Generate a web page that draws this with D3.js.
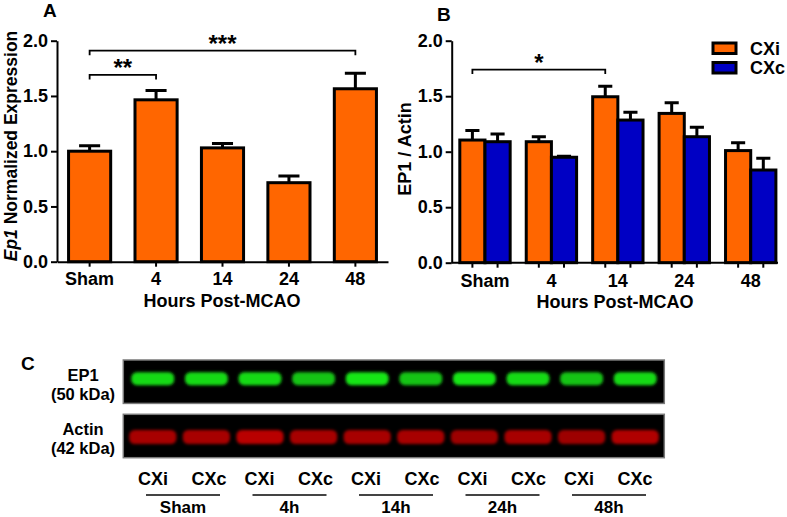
<!DOCTYPE html>
<html><head><meta charset="utf-8">
<script src="https://cdn.jsdelivr.net/npm/d3@7"></script>
<style>
body{margin:0;background:#fff}
svg{display:block;font-family:"Liberation Sans",Arial,sans-serif;font-weight:bold}
</style>
</head><body><svg id="c" width="787" height="517"></svg>
<script>
// ---------- data ----------
const hours = ["Sham", "4", "14", "24", "48"];
const ep1Mean = [1.00, 1.465, 1.03, 0.715, 1.565];
const ep1Sem  = [0.05, 0.085, 0.04, 0.06, 0.14];
const sides = ["CXi", "CXc"];
const cxiMean = [1.105, 1.09, 1.495, 1.345, 1.01];
const cxiSem  = [0.085, 0.045, 0.095, 0.095, 0.07];
const cxcMean = [1.09, 0.95, 1.285, 1.135, 0.835];
const cxcSem  = [0.07, 0.01, 0.07, 0.085, 0.105];
const yTicks = [0, 0.5, 1.0, 1.5, 2.0];
const sigA = [{a: "Sham", b: "48", label: "***", h: 1.91}, {a: "Sham", b: "4", label: "**", h: 1.69}];
const sigB = [{a: "Sham", b: "14", label: "*", h: 1.74}];
const blotGroups = ["Sham", "4h", "14h", "24h", "48h"];
const blotLanes = ["Sham-CXi","Sham-CXc","4h-CXi","4h-CXc","14h-CXi","14h-CXc","24h-CXi","24h-CXc","48h-CXi","48h-CXc"];
const ep1Signal   = [0.95, 0.95, 0.95, 0.85, 1.0, 0.85, 1.0, 0.95, 0.85, 0.95];
const actinSignal = [0.9, 0.9, 1.0, 0.9, 0.9, 0.9, 0.85, 0.9, 0.85, 0.95];

// ---------- styles ----------
const ORANGE = "#ff6600", BLUE = "#0000c4";
const svg = d3.select("#c");
const FS = 18;

const defs = svg.append("defs");
defs.append("filter").attr("id", "blur").attr("x", "-20%").attr("y", "-50%").attr("width", "140%").attr("height", "200%")
  .append("feGaussianBlur").attr("stdDeviation", 1.5);

function styleAxis(g) {
  g.selectAll("path,line").attr("stroke", "#000").attr("stroke-width", 2);
  g.selectAll("text").attr("font-size", FS).attr("font-weight", "bold").attr("font-family", "Liberation Sans, Arial, sans-serif").attr("fill", "#000");
}

function drawBracket(g, x1, x2, y, label) {
  g.append("path")
    .attr("d", `M${x1},${y + 4.5}V${y}H${x2}V${y + 4.5}`)
    .attr("fill", "none").attr("stroke", "#000").attr("stroke-width", 1.8);
  g.append("text").attr("x", (x1 + x2) / 2).attr("y", y + 1.5)
    .attr("text-anchor", "middle").attr("font-size", 24).text(label);
}

// ---------- Panel A ----------
{
  const y = d3.scaleLinear().domain([0, 2]).range([261.7, 40.7]);
  const x = d3.scaleBand().domain(hours).range([57, 388]).paddingInner(0.366).paddingOuter(0.174);
  const g = svg.append("g");

  const eb = g.append("g");
  hours.forEach((h, i) => {
    const cx = x(h) + x.bandwidth() / 2, cw = x.bandwidth() * 0.25;
    eb.append("path")
      .attr("d", `M${cx},${y(ep1Mean[i])}V${y(ep1Mean[i] + ep1Sem[i])}M${cx - cw},${y(ep1Mean[i] + ep1Sem[i])}H${cx + cw}`)
      .attr("stroke", "#000").attr("stroke-width", 3).attr("fill", "none");
  });
  g.selectAll("rect.bar").data(hours).join("rect").attr("class", "bar")
    .attr("x", d => x(d)).attr("width", x.bandwidth())
    .attr("y", (d, i) => y(ep1Mean[i])).attr("height", (d, i) => y(0) - y(ep1Mean[i]))
    .attr("fill", ORANGE).attr("stroke", "#000").attr("stroke-width", 3);

  const ya = g.append("g").attr("transform", "translate(57,0)")
    .call(d3.axisLeft(y).tickValues(yTicks).tickFormat(d3.format(".1f")).tickSize(6).tickSizeOuter(0).tickPadding(3));
  styleAxis(ya);
  const xa = g.append("g").attr("transform", `translate(0,${y(0)})`)
    .call(d3.axisBottom(x).tickSize(5).tickSizeOuter(0).tickPadding(5.5));
  styleAxis(xa);

  sigA.forEach(s => drawBracket(g, x(s.a) + x.bandwidth() / 2, x(s.b) + x.bandwidth() / 2, y(s.h), s.label));

  g.append("text").attr("x", 222).attr("y", 306.5).attr("text-anchor", "middle").attr("font-size", FS).text("Hours Post-MCAO");
  const yl = g.append("text").attr("transform", "translate(16.5,146) rotate(-90)").attr("text-anchor", "middle").attr("font-size", 17.5);
  yl.append("tspan").attr("font-style", "italic").text("Ep1");
  yl.append("tspan").text(" Normalized Expression");
  g.append("text").attr("x", 43).attr("y", 17.3).attr("font-size", 19).text("A");
}

// ---------- Panel B ----------
{
  const y = d3.scaleLinear().domain([0, 2]).range([262.7, 40.7]);
  const x = d3.scaleBand().domain(hours).range([451.7, 784]).paddingInner(0.242).paddingOuter(0.122);
  const xs = d3.scaleBand().domain(sides).range([0, x.bandwidth()]);
  const means = {CXi: cxiMean, CXc: cxcMean}, sems = {CXi: cxiSem, CXc: cxcSem};
  const colors = {CXi: ORANGE, CXc: BLUE};
  const g = svg.append("g");

  sides.forEach(sd => {
    hours.forEach((h, i) => {
      const cx = x(h) + xs(sd) + xs.bandwidth() / 2, cw = xs.bandwidth() * 0.28;
      const m = means[sd][i], e = sems[sd][i];
      g.append("path")
        .attr("d", `M${cx},${y(m)}V${y(m + e)}M${cx - cw},${y(m + e)}H${cx + cw}`)
        .attr("stroke", "#000").attr("stroke-width", 3).attr("fill", "none");
    });
  });
  sides.forEach(sd => {
    g.selectAll("rect.b" + sd).data(hours).join("rect").attr("class", "b" + sd)
      .attr("x", d => x(d) + xs(sd)).attr("width", xs.bandwidth())
      .attr("y", (d, i) => y(means[sd][i])).attr("height", (d, i) => y(0) - y(means[sd][i]))
      .attr("fill", colors[sd]).attr("stroke", "#000").attr("stroke-width", 3);
  });

  const ya = g.append("g").attr("transform", "translate(451.7,0)")
    .call(d3.axisLeft(y).tickValues(yTicks).tickFormat(d3.format(".1f")).tickSize(6).tickSizeOuter(0).tickPadding(3));
  styleAxis(ya);
  const xa = g.append("g").attr("transform", `translate(0,${y(0)})`)
    .call(d3.axisBottom(x).tickSize(0).tickPadding(11.5));
  xa.select(".domain").remove();
  styleAxis(xa);
  xa.selectAll(".tick line").remove();
  g.append("line").attr("x1", 451.7).attr("x2", 778).attr("y1", y(0)).attr("y2", y(0)).attr("stroke", "#000").attr("stroke-width", 2);
  sides.forEach(sd => hours.forEach(h => {
    const cx = x(h) + xs(sd) + xs.bandwidth() / 2;
    g.append("line").attr("x1", cx).attr("x2", cx).attr("y1", y(0)).attr("y2", y(0) + 5).attr("stroke", "#000").attr("stroke-width", 2);
  }));

  sigB.forEach(s => drawBracket(g, x(s.a) + xs("CXi") + xs.bandwidth() / 2, x(s.b) + xs("CXi") + xs.bandwidth() / 2, y(s.h), s.label));

  g.append("text").attr("x", 615).attr("y", 307.5).attr("text-anchor", "middle").attr("font-size", FS).text("Hours Post-MCAO");
  g.append("text").attr("transform", "translate(410.5,149) rotate(-90)").attr("text-anchor", "middle").attr("font-size", FS).text("EP1 / Actin");
  g.append("text").attr("x", 437).attr("y", 20.5).attr("font-size", 19).text("B");

  const lg = g.append("g");
  sides.forEach((sd, i) => {
    lg.append("rect").attr("x", 713).attr("y", 43 + i * 19.5).attr("width", 23).attr("height", 10.5)
      .attr("fill", colors[sd]).attr("stroke", "#000").attr("stroke-width", 3);
    lg.append("text").attr("x", 750).attr("y", 54.5 + i * 19.5).attr("font-size", FS).text(sd);
  });
}

// ---------- Panel C ----------
{
  const g = svg.append("g");
  g.append("text").attr("x", 21).attr("y", 370).attr("font-size", 19).text("C");
  const lane = d3.scaleBand().domain(blotLanes).range([126, 662]);
  const boxes = [{y: 360, name: "EP1", sub: "(50 kDa)", sig: ep1Signal, col: d3.rgb(20, 230, 20)},
                 {y: 414.3, name: "Actin", sub: "(42 kDa)", sig: actinSignal, col: d3.rgb(185, 5, 5)}];
  boxes.forEach((b, k) => {
    g.append("rect").attr("x", 123.3).attr("y", b.y).attr("width", 541).attr("height", 43.4)
      .attr("fill", "#000").attr("stroke", "#7a7a7a").attr("stroke-width", 1.5);
    const bw = lane.bandwidth() * (k === 0 ? 0.8 : 0.88);
    const bh = k === 0 ? 13 : 14;
    g.selectAll("rect.band" + k).data(blotLanes).join("rect").attr("class", "band" + k)
      .attr("x", d => lane(d) + (lane.bandwidth() - bw) / 2).attr("width", bw)
      .attr("y", b.y + 43.4 / 2 - bh / 2 - (k === 0 ? 3 : -1)).attr("height", bh)
      .attr("rx", 5.5)
      .attr("fill", (d, i) => { const c = d3.rgb(b.col); c.opacity = b.sig[i]; return c; })
      .attr("filter", "url(#blur)");
    g.append("text").attr("x", 83).attr("y", b.y + 20.5).attr("text-anchor", "middle").attr("font-size", 16.5).text(b.name);
    g.append("text").attr("x", 83).attr("y", b.y + 39.5).attr("text-anchor", "middle").attr("font-size", 16.5).text(b.sub);
  });
  const grp = d3.scaleBand().domain(blotGroups).range([129.75, 662.25]);
  blotGroups.forEach(gr => {
    const c = grp(gr) + grp.bandwidth() / 2;
    sides.forEach((sd, i) => {
      g.append("text").attr("x", c + (i === 0 ? -30 : 26)).attr("y", 484.5).attr("text-anchor", "middle").attr("font-size", 18).text(sd);
    });
    g.append("line").attr("x1", c - 37).attr("x2", c + 37).attr("y1", 495).attr("y2", 495).attr("stroke", "#444").attr("stroke-width", 2);
    g.append("text").attr("x", c).attr("y", 513).attr("text-anchor", "middle").attr("font-size", 17).text(gr);
  });
}
</script></body></html>
